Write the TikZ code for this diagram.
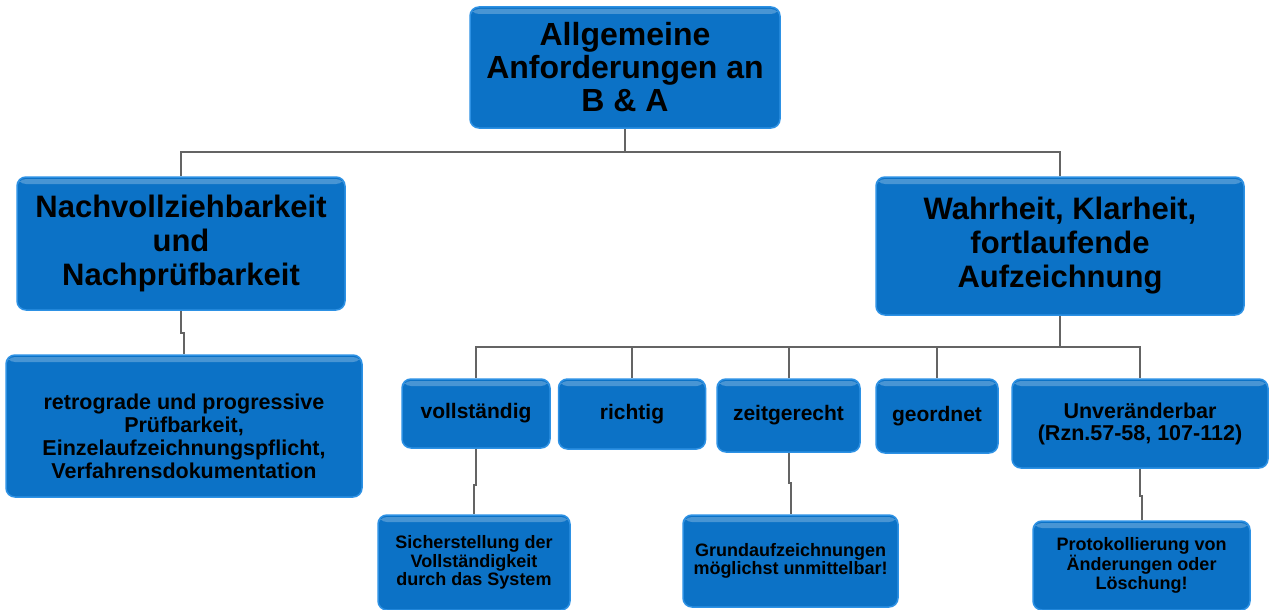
\documentclass[tikz,border=0pt]{standalone}
\usepackage{fontspec}
\setmainfont{Liberation Sans}
\usepackage{tikz}
\usetikzlibrary{positioning}

\definecolor{boxblue}{RGB}{12,114,198}
\definecolor{boxrim}{RGB}{45,145,228}
\definecolor{linegray}{RGB}{100,100,100}

\begin{document}
\begin{tikzpicture}[x=1pt, y=-1pt,
box/.style={draw=boxrim, fill=boxblue, line width=1.5pt, rounded corners=9pt, align=center, inner sep=2pt, font=\bfseries,
  path picture={\fill[white, opacity=0.25] ([yshift=-2pt]path picture bounding box.north west) rectangle ([yshift=-7pt]path picture bounding box.north east);}},
conn/.style={draw=linegray, line width=2pt}]

\useasboundingbox (0,0) rectangle (1270,610);

% oberste Ebene
\node[box, minimum width=310, minimum height=121, font=\bfseries\fontsize{32}{33}\selectfont]	(top) at (625,67.5)	{Allgemeine\\Anforderungen an\\B \& A};

\node[box, minimum width=328, minimum height=133, font=\bfseries\fontsize{31}{34}\selectfont]	(nach) at (181,243.5)	{Nachvollziehbarkeit\\und\\Nachpr\"ufbarkeit};
\node[box, minimum width=368, minimum height=138, font=\bfseries\fontsize{31}{34}\selectfont]	(wahr) at (1060,246)	{Wahrheit, Klarheit,\\fortlaufende\\Aufzeichnung};

\node[box, minimum width=356, minimum height=142, font=\bfseries\fontsize{21.5}{23}\selectfont]	(retro) at (184,426)	{\rule{0pt}{36pt}retrograde und progressive\\Pr\"ufbarkeit,\\Einzelaufzeichnungspflicht,\\Verfahrensdokumentation};

% Grundsaetze
\node[box, minimum width=148, minimum height=69, font=\bfseries\fontsize{21}{22}\selectfont]	(voll) at (476,413.5)	{vollst\"andig};
\node[box, minimum width=147, minimum height=70, font=\bfseries\fontsize{21}{22}\selectfont]	(richt) at (632,414)	{richtig};
\node[box, minimum width=143, minimum height=73, font=\bfseries\fontsize{21}{22}\selectfont]	(zeit) at (788.5,415.5)	{zeitgerecht};
\node[box, minimum width=122, minimum height=74, font=\bfseries\fontsize{21}{22}\selectfont]	(geord) at (937,416)	{geordnet};
\node[box, minimum width=256, minimum height=89, font=\bfseries\fontsize{21.5}{22}\selectfont]	(unver) at (1140,423.5)	{Unver\"anderbar\\(Rzn.57-58, 107-112)};

% untere Ebene
\node[box, minimum width=192, minimum height=95, font=\bfseries\fontsize{18}{18.5}\selectfont]	(sicher) at (474,562.5)	{Sicherstellung der\\Vollst\"andigkeit\\durch das System};
\node[box, minimum width=215, minimum height=92, font=\bfseries\fontsize{18}{18.5}\selectfont]	(grund) at (790.5,561)	{Grundaufzeichnungen\\m\"oglichst unmittelbar!};
\node[box, minimum width=217, minimum height=89, font=\bfseries\fontsize{18}{18.5}\selectfont]	(proto) at (1141.5,565.5)	{Protokollierung von\\\"Anderungen oder\\L\"oschung!};

% Verbindungen
\coordinate (bus1) at (625,152);
\coordinate (bus2) at (1060,347);

\draw[conn] (top.south) -- (bus1) -| (nach.north);
\draw[conn] (bus1) -| (wahr.north);
\draw[conn] (nach.south) -- ++(0,22) -| (retro.north);

\draw[conn] (wahr.south) -- (bus2);
\foreach \c in {voll, richt, zeit, geord, unver}
  \draw[conn] (bus2) -| (\c.north);

\draw[conn] (voll.south) -- ++(0,36) -| (sicher.north);
\draw[conn] (zeit.south) -- ++(0,30) -| (grund.north);
\draw[conn] (unver.south) -- ++(0,27) -| (proto.north);

\end{tikzpicture}
\end{document}
